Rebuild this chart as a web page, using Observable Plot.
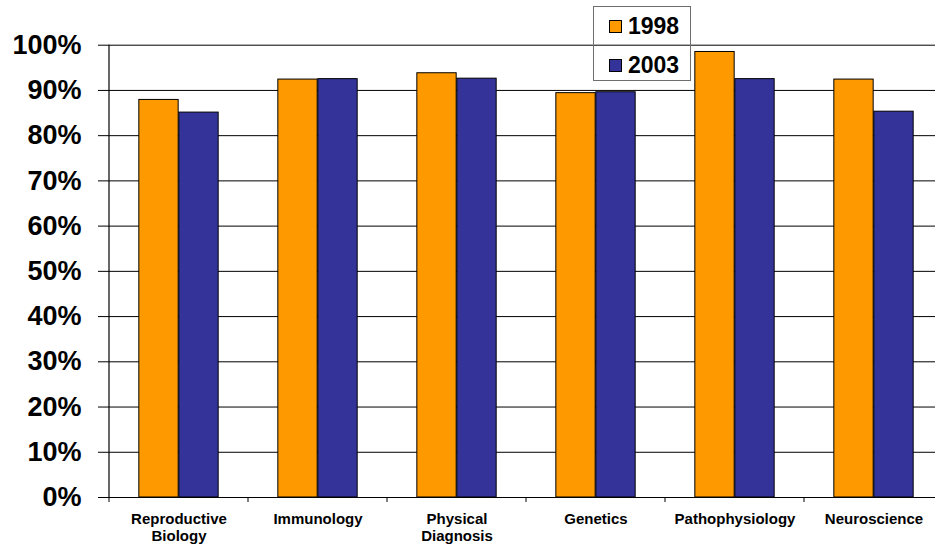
<!DOCTYPE html>
<html>
<head>
<meta charset="utf-8">
<script src="https://cdn.jsdelivr.net/npm/d3@7"></script>
<script src="https://cdn.jsdelivr.net/npm/@observablehq/plot@0.6"></script>
<style>
  body { margin: 0; background: #fff; }
  #wrap { position: relative; width: 935px; height: 546px; font-family: "Liberation Sans", Arial, sans-serif; }
  #wrap svg { font-family: "Liberation Sans", Arial, sans-serif; }
  #legend { position: absolute; left: 593px; top: 6px; width: 98px; height: 75px; border: 1px solid #6e6e6e; box-sizing: border-box; }
  .lrow { position: absolute; left: 15px; display: flex; align-items: center; font-weight: bold; font-size: 23px; color: #000; }
  .sw { width: 11px; height: 11px; border: 1px solid #000; margin-right: 6px; }
</style>
</head>
<body>
<div id="wrap"></div>
<script>
const categories = ["Reproductive Biology", "Immunology", "Physical Diagnosis", "Genetics", "Pathophysiology", "Neuroscience"];
const categoryLabels = ["Reproductive\nBiology", "Immunology", "Physical\nDiagnosis", "Genetics", "Pathophysiology", "Neuroscience"];
const series = ["1998", "2003"];
const values1998 = [87.9, 92.4, 93.8, 89.4, 98.5, 92.4];
const values2003 = [85.1, 92.5, 92.6, 89.6, 92.5, 85.3];
const yTicks = [0, 10, 20, 30, 40, 50, 60, 70, 80, 90, 100];
const colors = ["#FF9900", "#333399"];

const data = [];
categories.forEach((c, i) => {
  data.push({category: c, year: series[0], value: values1998[i]});
  data.push({category: c, year: series[1], value: values2003[i]});
});

const W = 935, H = 546;
const mL = 107, mT = 44.7, mB = 49;
const xRange = [mL, 945];
const bw = (xRange[1] - xRange[0]) / categories.length;
const barW = 40;

const labelOf = Object.fromEntries(categories.map((c, i) => [c, categoryLabels[i]]));

const boundaryTicks = (index, scales) => {
  const g = d3.create("svg:g");
  const x = scales.x, y = scales.y;
  const y0 = y(0);
  g.append("line").attr("x1", x(categories[0])).attr("x2", x(categories[0]))
    .attr("y1", y(100)).attr("y2", y0).attr("stroke", "#000").attr("stroke-width", 1.2);
  categories.forEach(c => {
    g.append("line").attr("x1", x(c)).attr("x2", x(c))
      .attr("y1", y0).attr("y2", y0 + 5).attr("stroke", "#000");
  });
  return g.node();
};

const chart = Plot.plot({
  width: W,
  height: H,
  marginLeft: mL,
  marginRight: 0,
  marginTop: mT,
  marginBottom: mB,
  x: {domain: categories, range: xRange, padding: 0},
  y: {domain: [0, 100]},
  color: {domain: series, range: colors},
  marks: [
    Plot.ruleY(yTicks, {stroke: "#000", strokeWidth: 1}),
    Plot.barY(data.filter(d => d.year === series[0]), {
      x: "category", y: "value", fill: colors[0], stroke: "#000", strokeWidth: 1,
      insetLeft: bw / 2 - barW, insetRight: bw / 2
    }),
    Plot.barY(data.filter(d => d.year === series[1]), {
      x: "category", y: "value", fill: colors[1], stroke: "#000", strokeWidth: 1,
      insetLeft: bw / 2, insetRight: bw / 2 - barW
    }),
    Plot.axisY({ticks: yTicks, tickFormat: d => d + "%", tickSize: 9, tickPadding: 17,
      fontSize: 27, fontWeight: "bold", stroke: "#000", label: null}),
    Plot.axisX({tickSize: 0, tickPadding: 15, tickFormat: d => labelOf[d],
      fontSize: 15, fontWeight: "bold", lineHeight: 1.12, label: null}),
    boundaryTicks
  ]
});
chart.style.color = "#000";
document.getElementById("wrap").appendChild(chart);

const legend = document.createElement("div");
legend.id = "legend";
series.forEach((s, i) => {
  const row = document.createElement("div");
  row.className = "lrow";
  row.style.top = (i === 0 ? 6 : 45) + "px";
  const sw = document.createElement("div");
  sw.className = "sw";
  sw.style.background = colors[i];
  const t = document.createElement("span");
  t.textContent = s;
  row.appendChild(sw);
  row.appendChild(t);
  legend.appendChild(row);
});
document.getElementById("wrap").appendChild(legend);
</script>
</body>
</html>
